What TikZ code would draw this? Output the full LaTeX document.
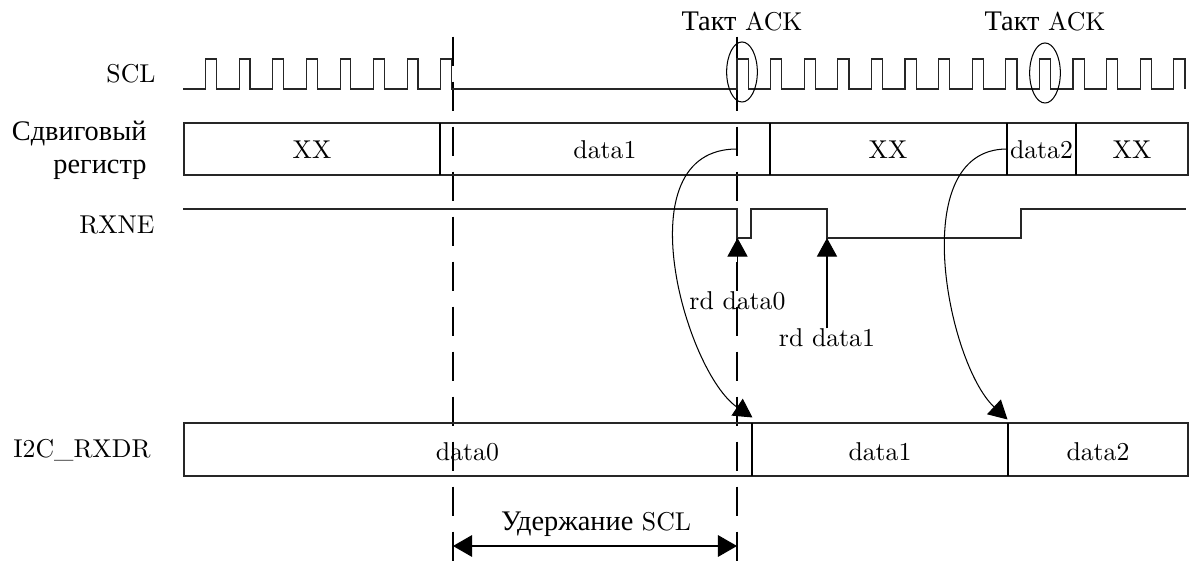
\documentclass[tikz,border=0pt]{standalone}
\usepackage{fontspec}
\newfontfamily\cyr[Scale=1.1]{Liberation Serif}
\usetikzlibrary{arrows.meta,shapes.geometric}
\begin{document}
\begin{tikzpicture}[x=0.388pt,y=-0.388pt,
  wave/.style={line width=0.45pt,draw=black!85},
  frame/.style={line width=0.45pt,draw=black!85},
  divider/.style={line width=0.9pt},
  vdash/.style={line width=0.45pt,dash pattern=on 11.37pt off 6.09pt},
  tri/.style={-{Triangle[length=7.2pt,width=7.8pt]}},
  bitri/.style={{Triangle[length=7.4pt,width=8.4pt]}-{Triangle[length=7.4pt,width=8.4pt]}},
  curv/.style={line width=0.4pt},
  txt/.style={inner sep=0pt,anchor=base},
  lbl/.style={inner sep=0pt,anchor=base east},
  ackell/.style={draw,ellipse,line width=0.4pt,inner sep=0pt,minimum width=11.9pt,minimum height=23.3pt}
]
\useasboundingbox (0,0) rectangle (1192,562);

% left labels
\node[lbl] (sclL) at (156,83) {SCL};
\node[lbl] (srL1) at (147,140.5) {\cyr Сдвиговый};
\node[lbl] (srL2) at (147,173.3) {\cyr регистр};
\node[lbl] (rxneL) at (155,233.3) {RXNE};
\node[lbl] (rxdrL) at (151,457.3) {I2C\_RXDR};

% dashed time markers
\coordinate (d1t) at (453,36.7);
\coordinate (d1b) at (453,562);
\coordinate (d2t) at (737,36.7);
\coordinate (d2b) at (737,562);
\draw[vdash] (d1t) -- (d1b);
\draw[vdash] (d2t) -- (d2b);

% SCL waveform
\draw[wave] (183,89)
  foreach \k in {0,...,7} { -- ({205.7+33.6*\k},89) -- ++(0,-30) -- ++(10.7,0) -- ++(0,30) }
  -- (737,89)
  foreach \k in {0,...,13} { -- ({737+33.6*\k},89) -- ++(0,-30) -- ++(11.2,0) -- ++(0,30) };

% ACK marks
\node[ackell] (ack1) at (742,72) {};
\node[ackell] (ack2) at (1045,73) {};
\node[txt] (ackt1) at (742,31) {{\cyr Такт} ACK};
\node[txt] (ackt2) at (1045,31) {{\cyr Такт} ACK};

% shift register
\draw[frame] (184,123) rectangle (1188,175);
\foreach \xx in {440,770,1007,1076} \draw[divider] (\xx,123) -- (\xx,175);
\node[txt] (sr1) at (312,158.3) {XX};
\node[txt] (sr2) at (605,158.3) {data1};
\node[txt] (sr3) at (888,158.3) {XX};
\node[txt] (sr4) at (1041.5,158.3) {data2};
\node[txt] (sr5) at (1132,158.3) {XX};

% RXNE
\draw[wave] (183,209) -- (737,209) -- (737,238) -- (751,238) -- (751,209)
  -- (827,209) -- (827,238) -- (1021,238) -- (1021,209) -- (1186,209);

% read arrows
\node[txt] (rd0) at (737.5,309.3) {rd data0};
\node[txt] (rd1) at (827,346.7) {rd data1};
\coordinate (rx0) at (737.5,238);
\coordinate (rx1) at (827,238);
\draw[curv,tri] (rd0.north) -- (rx0);
\draw[curv,tri] (rd1.north) -- (rx1);

% I2C_RXDR
\draw[frame] (184,423) rectangle (1188,476);
\foreach \xx in {752,1008} \draw[divider] (\xx,423) -- (\xx,476);
\node[txt] (dr1) at (467.5,460) {data0};
\node[txt] (dr2) at (880,460) {data1};
\node[txt] (dr3) at (1098,460) {data2};

% transfer curves
\coordinate (c1s) at (737,149);
\coordinate (c1e) at (752.5,417.5);
\coordinate (c2s) at (1007,149);
\coordinate (c2e) at (1007.5,419.5);
\draw[curv,tri] (c1s) .. controls +(-115,0) and +(-67,-45) .. (c1e);
\draw[curv,tri] (c2s) .. controls +(-102,0) and +(-60,-56) .. (c2e);

% SCL hold
\coordinate (h1) at (453,546);
\coordinate (h2) at (737,546);
\draw[curv,bitri] (h1) -- (h2);
\node[txt] (holdT) at (596,530.7) {{\cyr Удержание} SCL};
\end{tikzpicture}
\end{document}
